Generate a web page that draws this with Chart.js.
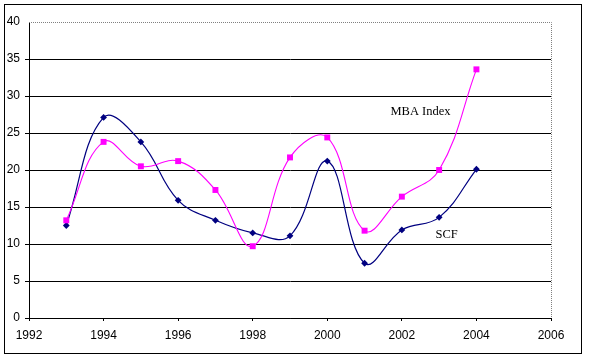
<!DOCTYPE html>
<html>
<head>
<meta charset="utf-8">
<script src="https://cdn.jsdelivr.net/npm/chart.js@4/dist/chart.umd.min.js"></script>
<style>
html,body{margin:0;padding:0;background:#fff;}
#wrap{position:relative;width:589px;height:357px;}
</style>
</head>
<body>
<div id="wrap"><canvas id="c" width="589" height="357"></canvas></div>
<script>
const years = [1993,1994,1995,1996,1997,1998,1999,2000,2001,2002,2003,2004];
const scfValues = [12.5,27.1,23.8,15.9,13.2,11.5,11.1,21.2,7.4,11.9,13.6,20.1];
const mbaValues = [13.2,23.8,20.5,21.2,17.3,9.7,21.7,24.4,11.8,16.4,20.0,33.6];
const seriesNames = ['SCF','MBA Index'];
const xTicks = [1992,1994,1996,1998,2000,2002,2004,2006];
const yTicks = [0,5,10,15,20,25,30,35,40];
const labelTexts = ['MBA Index','SCF'];
const labelX = [2002.5,2003.2];
const labelY = [27.9,11.2];

const toXY = (vals) => years.map((y,i)=>({x:y,y:vals[i]}));

const decor = {
  id:'decor',
  beforeDraw(chart){
    const c = chart.ctx;
    c.save();
    c.fillStyle='#fff';
    c.fillRect(0,0,chart.width,chart.height);
    c.restore();
  },
  afterDraw(chart){
    const c = chart.ctx, a = chart.chartArea;
    c.save();
    c.strokeStyle='#000'; c.lineWidth=1;
    c.strokeRect(4.5,4.5,577,349);
    c.strokeStyle='#808080'; c.setLineDash([1,1]);
    c.beginPath();
    c.moveTo(a.left, a.top+0.5); c.lineTo(a.right+0.5, a.top+0.5); c.lineTo(a.right+0.5, a.bottom);
    c.stroke();
    c.setLineDash([]);
    c.fillStyle='#000';
    c.font='12.5px "Liberation Serif", "Times New Roman", serif';
    c.textAlign='center'; c.textBaseline='middle';
    const xs = chart.scales.x, ys = chart.scales.y;
    labelTexts.forEach((t,i)=>{
      c.fillText(t, xs.getPixelForValue(labelX[i]), ys.getPixelForValue(labelY[i]));
    });
    c.restore();
  }
};

new Chart(document.getElementById('c'), {
  type:'line',
  data:{
    datasets:[
      {label:seriesNames[1], data:toXY(mbaValues), borderColor:'#FF00FF', backgroundColor:'#FF00FF',
       borderWidth:1.1, pointStyle:'rect', pointRadius:4.2, pointBorderWidth:0, tension:0.4, fill:false},
      {label:seriesNames[0], data:toXY(scfValues), borderColor:'#000080', backgroundColor:'#000080',
       borderWidth:1.2, pointStyle:'rectRot', pointRadius:3.4, pointBorderWidth:0, tension:0.4, fill:false}
    ]
  },
  options:{
    responsive:false,
    animation:false,
    devicePixelRatio:1,
    layout:{padding:{left:0,top:22,right:38,bottom:0}},
    plugins:{legend:{display:false},tooltip:{enabled:false}},
    scales:{
      x:{
        type:'linear', min:1992, max:2006,
        afterBuildTicks(s){ s.ticks = xTicks.map(v=>({value:v})); },
        afterFit(s){ s.height = 39; },
        grid:{drawOnChartArea:false, drawTicks:true, tickLength:3, color:'#000'},
        border:{color:'#000', width:1},
        ticks:{color:'#000', padding:7, maxRotation:0, autoSkip:false,
               callback:(v)=>String(v),
               font:{family:'"Liberation Sans", Arial, sans-serif', size:12}}
      },
      y:{
        min:0, max:40,
        afterBuildTicks(s){ s.ticks = yTicks.map(v=>({value:v})); },
        afterFit(s){ s.width = 29; },
        grid:{color:(ctx)=> (ctx.tick && ctx.tick.value===40) ? 'rgba(0,0,0,0)' : '#000', tickLength:4, drawTicks:true},
        border:{color:'#000', width:1},
        ticks:{color:'#000', padding:5, callback:(v)=>String(v),
               font:{family:'"Liberation Sans", Arial, sans-serif', size:12}}
      }
    }
  },
  plugins:[decor]
});
</script>
</body>
</html>
